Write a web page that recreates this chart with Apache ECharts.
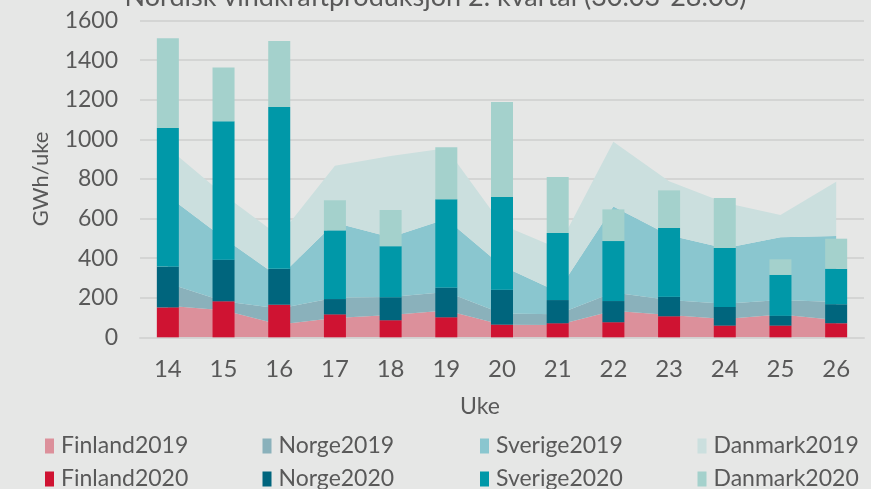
<!DOCTYPE html>
<html>
<head>
<meta charset="utf-8">
<script src="https://cdn.jsdelivr.net/npm/echarts@6/dist/echarts.min.js"></script>
<style>
  html, body { margin: 0; padding: 0; background: #e6e7e6; }
  #chart { width: 871px; height: 489px; }
</style>
</head>
<body>
<div id="chart"></div>
<script>
  // uker
  var weeks = ['14', '15', '16', '17', '18', '19', '20', '21', '22', '23', '24', '25', '26'];

  // 2019 (GWh/uke), stablet areal
  var finland2019 = [159, 136, 65, 98, 112, 135, 64, 62, 134, 113, 93, 115, 88];
  var norge2019 = [114, 46, 81, 102, 91, 94, 56, 55, 92, 76, 77, 73, 90];
  var sverige2019 = [441, 320, 157, 378, 302, 368, 240, 113, 434, 326, 280, 317, 334];
  var danmark2019 = [243, 219, 209, 289, 411, 358, 208, 220, 328, 273, 230, 113, 274];

  // 2020 (GWh/uke), stablede søyler
  var finland2020 = [151, 182, 165, 116, 86, 101, 64, 71, 76, 106, 59, 59, 71];
  var norge2020 = [206, 210, 181, 77, 116, 150, 176, 117, 107, 99, 94, 49, 96];
  var sverige2020 = [700, 699, 817, 347, 258, 446, 469, 339, 303, 347, 298, 207, 179];
  var danmark2020 = [453, 271, 333, 152, 183, 263, 479, 283, 160, 190, 252, 79, 152];

  var yTicks = [0, 200, 400, 600, 800, 1000, 1200, 1400, 1600];

  var font = 'Lato, "Open Sans", sans-serif';
  var grey = '#595959';

  function area(name, data, color) {
    return {
      name: name,
      type: 'line',
      stack: 'y2019',
      z: 1,
      data: data,
      symbol: 'none',
      lineStyle: { width: 0 },
      itemStyle: { color: color },
      areaStyle: { color: color, opacity: 1 },
      emphasis: { disabled: true }
    };
  }

  function bar(name, data, color) {
    return {
      name: name,
      type: 'bar',
      stack: 'y2020',
      z: 5,
      data: data,
      barWidth: 22,
      itemStyle: { color: color },
      emphasis: { disabled: true }
    };
  }

  var legendText = {
    color: grey,
    fontFamily: font,
    fontSize: 23,
    lineHeight: 26,
    width: 189,
    padding: [0, 0, 0, 2]
  };

  var myChart = echarts.init(document.getElementById('chart'));
  myChart.setOption({
    backgroundColor: '#e6e7e6',
    animation: false,
    title: {
      text: 'Nordisk vindkraftproduksjon 2. kvartal (30.03-28.06)',
      left: 'center',
      top: -21,
      textStyle: { color: grey, fontFamily: font, fontSize: 27, fontWeight: 'normal' }
    },
    legend: [
      {
        data: ['Finland2019', 'Norge2019', 'Sverige2019', 'Danmark2019'],
        left: 40, top: 428, width: 860,
        icon: 'rect', itemWidth: 9, itemHeight: 15, itemGap: 12.5,
        textStyle: legendText
      },
      {
        data: ['Finland2020', 'Norge2020', 'Sverige2020', 'Danmark2020'],
        left: 40, top: 461, width: 860,
        icon: 'rect', itemWidth: 9, itemHeight: 15, itemGap: 12.5,
        textStyle: legendText
      }
    ],
    grid: { left: 140, right: 7, top: 20.5, bottom: 151.7 },
    xAxis: {
      type: 'category',
      data: weeks,
      name: 'Uke',
      nameLocation: 'middle',
      nameGap: 58,
      nameTextStyle: { color: grey, fontFamily: font, fontSize: 23, padding: [0, 44, 0, 0] },
      axisLine: { lineStyle: { color: '#d4d5d4', width: 2 } },
      axisTick: { show: false },
      axisLabel: { color: grey, fontFamily: font, fontSize: 24, margin: 20 }
    },
    yAxis: {
      type: 'value',
      min: yTicks[0],
      max: yTicks[yTicks.length - 1],
      interval: 200,
      name: 'GWh/uke',
      nameLocation: 'middle',
      nameGap: 88,
      nameTextStyle: { color: grey, fontFamily: font, fontSize: 22 },
      axisLabel: {
        color: grey, fontFamily: font, fontSize: 23, margin: 22,
        formatter: function (v) { return String(v); }
      },
      splitLine: { lineStyle: { color: '#d4d5d4', width: 2 } }
    },
    series: [
      area('Finland2019', finland2019, '#dc909b'),
      area('Norge2019', norge2019, '#8ab1bb'),
      area('Sverige2019', sverige2019, '#8ac6cf'),
      area('Danmark2019', danmark2019, '#cbdfde'),
      bar('Finland2020', finland2020, '#cf1332'),
      bar('Norge2020', norge2020, '#00657d'),
      bar('Sverige2020', sverige2020, '#0098a8'),
      bar('Danmark2020', danmark2020, '#a4d1cc')
    ]
  });
</script>
</body>
</html>
